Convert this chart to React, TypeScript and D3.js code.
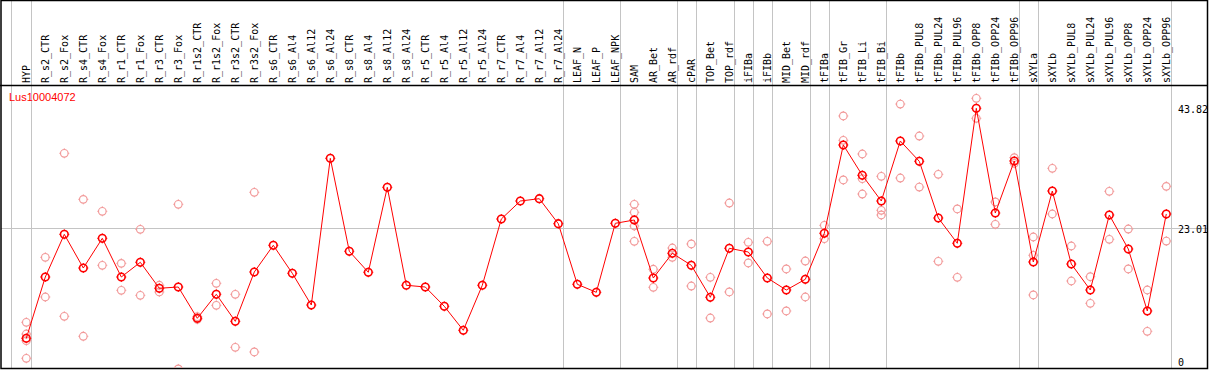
import React, { useEffect, useRef } from "react";
import * as d3 from "d3";

const geneId = "Lus10004072";

const samples = [
  "HYP", "R_s2_CTR", "R_s2_Fox", "R_s4_CTR", "R_s4_Fox", "R_r1_CTR", "R_r1_Fox",
  "R_r3_CTR", "R_r3_Fox", "R_r1s2_CTR", "R_r1s2_Fox", "R_r3s2_CTR", "R_r3s2_Fox",
  "R_s6_CTR", "R_s6_Al4", "R_s6_Al12", "R_s6_Al24", "R_s8_CTR", "R_s8_Al4",
  "R_s8_Al12", "R_s8_Al24", "R_r5_CTR", "R_r5_Al4", "R_r5_Al12", "R_r5_Al24",
  "R_r7_CTR", "R_r7_Al4", "R_r7_Al12", "R_r7_Al24", "LEAF_N", "LEAF_P", "LEAF_NPK",
  "SAM", "AR_Bet", "AR_rdf", "cPAR", "TOP_Bet", "TOP_rdf", "iFIBa", "iFIBb",
  "MID_Bet", "MID_rdf", "tFIBa", "tFIB_Gr", "tFIB_Li", "tFIB_Bi", "tFIBb",
  "tFIBb_PUL8", "tFIBb_PUL24", "tFIBb_PUL96", "tFIBb_OPP8", "tFIBb_OPP24",
  "tFIBb_OPP96", "sXYLa", "sXYLb", "sXYLb_PUL8", "sXYLb_PUL24", "sXYLb_PUL96",
  "sXYLb_OPP8", "sXYLb_OPP24", "sXYLb_OPP96",
];

const means = [
  4.0, 14.61, 22.0, 16.17, 21.31, 14.61, 17.16, 12.66, 12.88, 7.46, 11.62, 6.94, 15.48,
  20.1, 15.25, 9.76, 35.16, 19.06, 15.43, 30.14, 13.18, 12.88, 9.54, 5.38, 13.18,
  24.65, 27.77, 28.17, 23.84, 13.35, 11.96, 23.91,
  24.48, 14.44, 18.72, 16.64, 11.1, 19.58, 18.94, 14.44, 12.36, 14.21, 22.18,
  37.47, 32.22, 27.77, 38.16, 34.64, 24.83, 20.45, 43.82, 25.69, 34.7,
  17.21, 29.5, 16.86, 12.36, 25.35, 19.46, 8.73, 25.52,
];

const replicates: number[][] = [
  [6.77, 4.74, 3.58, 0.54], [18.02, 11.15], [36.03, 7.81], [28.06, 4.35], [25.99, 16.64],
  [16.98, 12.31], [22.87, 11.44], [13.18, 12.02], [27.2, -1.3], [7.74, 7.29],
  [13.52, 9.71], [11.62, 2.44], [29.28, 1.63],
  [], [], [], [], [], [], [], [], [], [], [], [], [], [], [], [], [], [], [],
  [27.2, 25.81, 23.44, 20.79], [15.95, 12.83], [19.63, 18.02], [20.33, 13.05],
  [14.56, 7.51], [27.42, 12.02], [20.62, 17.04], [20.79, 8.21], [16.0, 8.73],
  [17.38, 11.15], [23.56, 21.24],
  [42.49, 38.28, 31.41], [35.91, 31.63, 28.98], [32.05, 26.16, 25.35], [44.56, 31.75],
  [39.02, 30.19], [32.39, 17.33], [26.39, 14.56], [45.55, 42.09], [27.6, 23.74],
  [35.27, 34.3],
  [21.54, 18.37, 11.5], [33.43, 25.52], [19.98, 13.92], [14.66, 10.06], [29.45, 21.14],
  [22.92, 16.0], [12.36, 5.21], [30.31, 20.84],
];

// a grey separator is drawn after each of these samples
const groupEnds = [
  "HYP", "R_r7_Al24", "LEAF_NPK", "AR_rdf", "cPAR", "TOP_rdf", "iFIBa", "iFIBb",
  "MID_rdf", "tFIBa", "tFIB_Bi", "tFIBb_OPP96", "sXYLa", "sXYLb_OPP96",
];

const axisTicks = [43.82, 23.01, 0];
const refLine = 23.01;

const W = 1209;
const H = 370;

const App: React.FC = () => {
  const svgRef = useRef<SVGSVGElement>(null);

  useEffect(() => {
    document.body.style.margin = "0";
    if (!svgRef.current) return;
    const svg = d3.select(svgRef.current);
    svg.selectAll("*").remove();

    const headerY = 85.5;
    const bottom = 368.5;
    const right = 1207.5;

    const x = d3.scalePoint<string>().domain(samples).range([26.3, 1166.3]);
    const y = d3.scaleLinear().domain([0, 43.82]).range([361.4, 108.3]);
    const mono = "'DejaVu Sans Mono', monospace";

    svg.append("rect").attr("width", W).attr("height", H).attr("fill", "#fff");

    // grid
    const sepX = [x("HYP")! - 15.5, ...groupEnds.map((s) => x(s)! + 4.4)];
    svg
      .selectAll("line.sep")
      .data(sepX)
      .join("line")
      .attr("x1", (d) => Math.round(d) + 0.5)
      .attr("x2", (d) => Math.round(d) + 0.5)
      .attr("y1", 0)
      .attr("y2", bottom)
      .attr("stroke", "#c4c4c4")
      .attr("stroke-width", 1);

    svg
      .append("line")
      .attr("x1", 1)
      .attr("x2", right)
      .attr("y1", Math.round(y(refLine)) + 0.5)
      .attr("y2", Math.round(y(refLine)) + 0.5)
      .attr("stroke", "#c4c4c4");

    // frame
    svg
      .append("rect")
      .attr("x", 1)
      .attr("y", 0.5)
      .attr("width", right - 1)
      .attr("height", bottom - 0.5)
      .attr("fill", "none")
      .attr("stroke", "#000")
      .attr("stroke-width", 1.5);
    svg
      .append("line")
      .attr("x1", 0)
      .attr("x2", right)
      .attr("y1", headerY)
      .attr("y2", headerY)
      .attr("stroke", "#000")
      .attr("stroke-width", 1.5);

    // sample labels
    svg
      .selectAll("text.lab")
      .data(samples)
      .join("text")
      .attr("transform", (d) => `translate(${x(d)! + 3.4},83) rotate(-90)`)
      .attr("font-family", mono)
      .attr("font-size", 10)
      .attr("fill", "#000")
      .text((d) => d);

    // right axis labels
    svg
      .selectAll("text.tick")
      .data(axisTicks)
      .join("text")
      .attr("x", 1178)
      .attr("y", (d) => y(d) + 5)
      .attr("font-family", mono)
      .attr("font-size", 10)
      .attr("fill", "#000")
      .text((d) => String(d));

    svg
      .append("text")
      .attr("x", 9)
      .attr("y", 101)
      .attr("font-family", "'Liberation Sans', Arial, sans-serif")
      .attr("font-size", 11)
      .attr("fill", "#ff0000")
      .text(geneId);

    svg
      .append("clipPath")
      .attr("id", "plotclip")
      .append("rect")
      .attr("x", 2)
      .attr("y", headerY + 1)
      .attr("width", right - 3)
      .attr("height", bottom - headerY - 1.5);

    const plot = svg.append("g").attr("clip-path", "url(#plotclip)");

    const marker = (g: any, cx: number, cy: number, color: string, sw: number) => {
      const r = 3.8;
      g.append("circle")
        .attr("cx", cx)
        .attr("cy", cy)
        .attr("r", r)
        .attr("fill", "none")
        .attr("stroke", color)
        .attr("stroke-width", sw);
      const spikes = [[0, -1], [0, 1], [-1, 0], [1, 0]];
      spikes.forEach(([dx, dy]) => {
        g.append("line")
          .attr("x1", cx + dx * r)
          .attr("y1", cy + dy * r)
          .attr("x2", cx + dx * (r + 1.2))
          .attr("y2", cy + dy * (r + 1.2))
          .attr("stroke", color)
          .attr("stroke-width", 1);
      });
    };

    const repG = plot.append("g");
    samples.forEach((s, i) => {
      replicates[i].forEach((v) => marker(repG, x(s)!, y(v), "#f29a9a", 1.2));
    });

    const line = d3
      .line<number>()
      .x((_, i) => x(samples[i])!)
      .y((d) => y(d));

    plot
      .append("path")
      .datum(means)
      .attr("d", line)
      .attr("fill", "none")
      .attr("stroke", "#ff0000")
      .attr("stroke-width", 1);

    const meanG = plot.append("g");
    samples.forEach((s, i) => marker(meanG, x(s)!, y(means[i]), "#ff0000", 1.6));
  }, []);

  return <svg ref={svgRef} width={W} height={H} style={{ display: "block" }} />;
};

export default App;
